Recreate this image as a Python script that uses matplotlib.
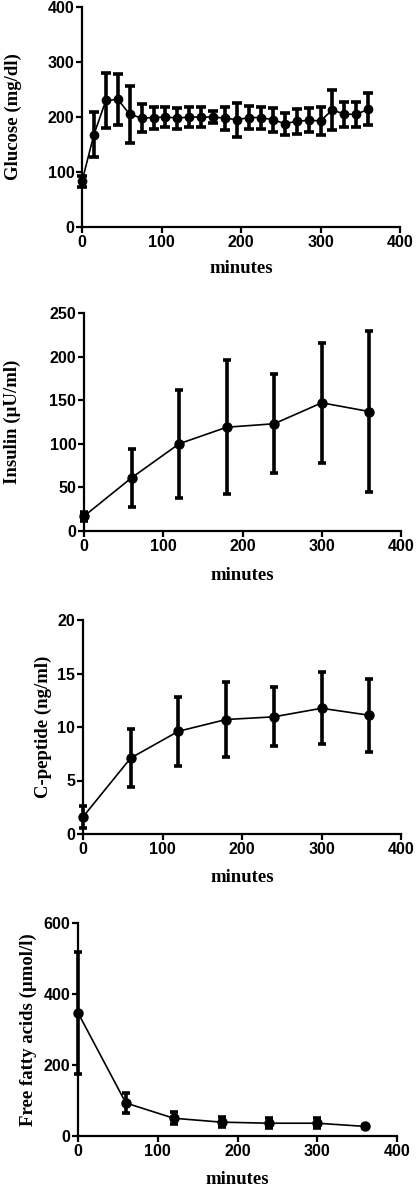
import matplotlib
matplotlib.use('Agg')
import matplotlib.pyplot as plt

# glucose, every 15 min
glu_t = [0, 15, 30, 45, 60, 75, 90, 105, 120, 135, 150, 165, 180, 195, 210,
         225, 240, 255, 270, 285, 300, 315, 330, 345, 360]
glu_mean = [83, 168, 230, 232, 205, 198, 199, 200, 198, 200, 200, 200, 198, 195, 199,
            199, 195, 188, 192, 194, 193, 213, 205, 205, 214]
glu_err = [10, 41, 50, 47, 52, 25, 20, 19, 19, 19, 19, 11, 21, 31, 21,
           20, 22, 20, 22, 22, 25, 36, 23, 23, 29]

# hourly samples
hr_t = [0, 60, 120, 180, 240, 300, 360]
ins_mean = [17, 61, 100, 119, 123, 147, 137]
ins_err = [5, 33, 62, 77, 57, 69, 92]
cpep_mean = [1.6, 7.1, 9.6, 10.7, 10.95, 11.75, 11.1]
cpep_err = [1.0, 2.7, 3.25, 3.5, 2.75, 3.35, 3.4]
ffa_mean = [347, 93, 50, 39, 36, 36, 27]
ffa_err = [172, 28, 17, 15, 14, 14, 4]

W, H = 416, 1186
LABEL_FONT = dict(family='Liberation Serif', weight='bold', size=13.5)
TICK_FONT = 'Liberation Sans'

# data, ylabel, (left, top, right, bottom) px, ylabel x, ymax, yticks, xlabel y, marker, cap
panels = [
    (glu_t, glu_mean, glu_err, 'Glucose (mg/dl)', (82, 7, 400, 227), -0.19,
     400, [0, 100, 200, 300, 400], -0.15, 6, 3.5),
    (hr_t, ins_mean, ins_err, 'Insulin (µU/ml)', (84, 313, 401, 531), -0.2,
     250, [0, 50, 100, 150, 200, 250], -0.165, 6.5, 3.0),
    (hr_t, cpep_mean, cpep_err, 'C-peptide (ng/ml)', (83, 620, 401, 834), -0.097,
     20, [0, 5, 10, 15, 20], -0.165, 6.5, 3.0),
    (hr_t, ffa_mean, ffa_err, 'Free fatty acids (µmol/l)', (78, 923, 397, 1136), -0.129,
     600, [0, 200, 400, 600], -0.165, 6.5, 3.0),
]


def main() -> None:
    fig = plt.figure(figsize=(W / 100, H / 100), dpi=100)
    for t, m, e, ylabel, box, ylx, ymax, yticks, xly, ms, cap in panels:
        l, tp, r, b = box
        ax = fig.add_axes([l / W, 1 - b / H, (r - l) / W, (b - tp) / H])
        ax.errorbar(t, m, yerr=e, fmt='-o', color='black', linewidth=1.2,
                    markersize=ms, elinewidth=2.6, capsize=cap, capthick=2.6,
                    clip_on=False, zorder=3)
        ax.set_xlim(0, 400)
        ax.set_ylim(0, ymax)
        ax.set_xticks([0, 100, 200, 300, 400])
        ax.set_yticks(yticks)
        for s in ['top', 'right']:
            ax.spines[s].set_visible(False)
        for s in ['left', 'bottom']:
            ax.spines[s].set_linewidth(1.6)
        ax.tick_params(direction='out', length=4, width=1.6, pad=1.5)
        for lab in ax.get_xticklabels() + ax.get_yticklabels():
            lab.set_fontfamily(TICK_FONT)
            lab.set_fontweight('bold')
            lab.set_fontsize(11.5)
        ax.set_ylabel(ylabel, **LABEL_FONT)
        ax.yaxis.set_label_coords(ylx, 0.5)
        ax.set_xlabel('minutes', **LABEL_FONT)
        ax.xaxis.set_label_coords(0.5, xly)
    fig.savefig('out.png', dpi=100)
    plt.close(fig)


if __name__ == '__main__':
    main()
